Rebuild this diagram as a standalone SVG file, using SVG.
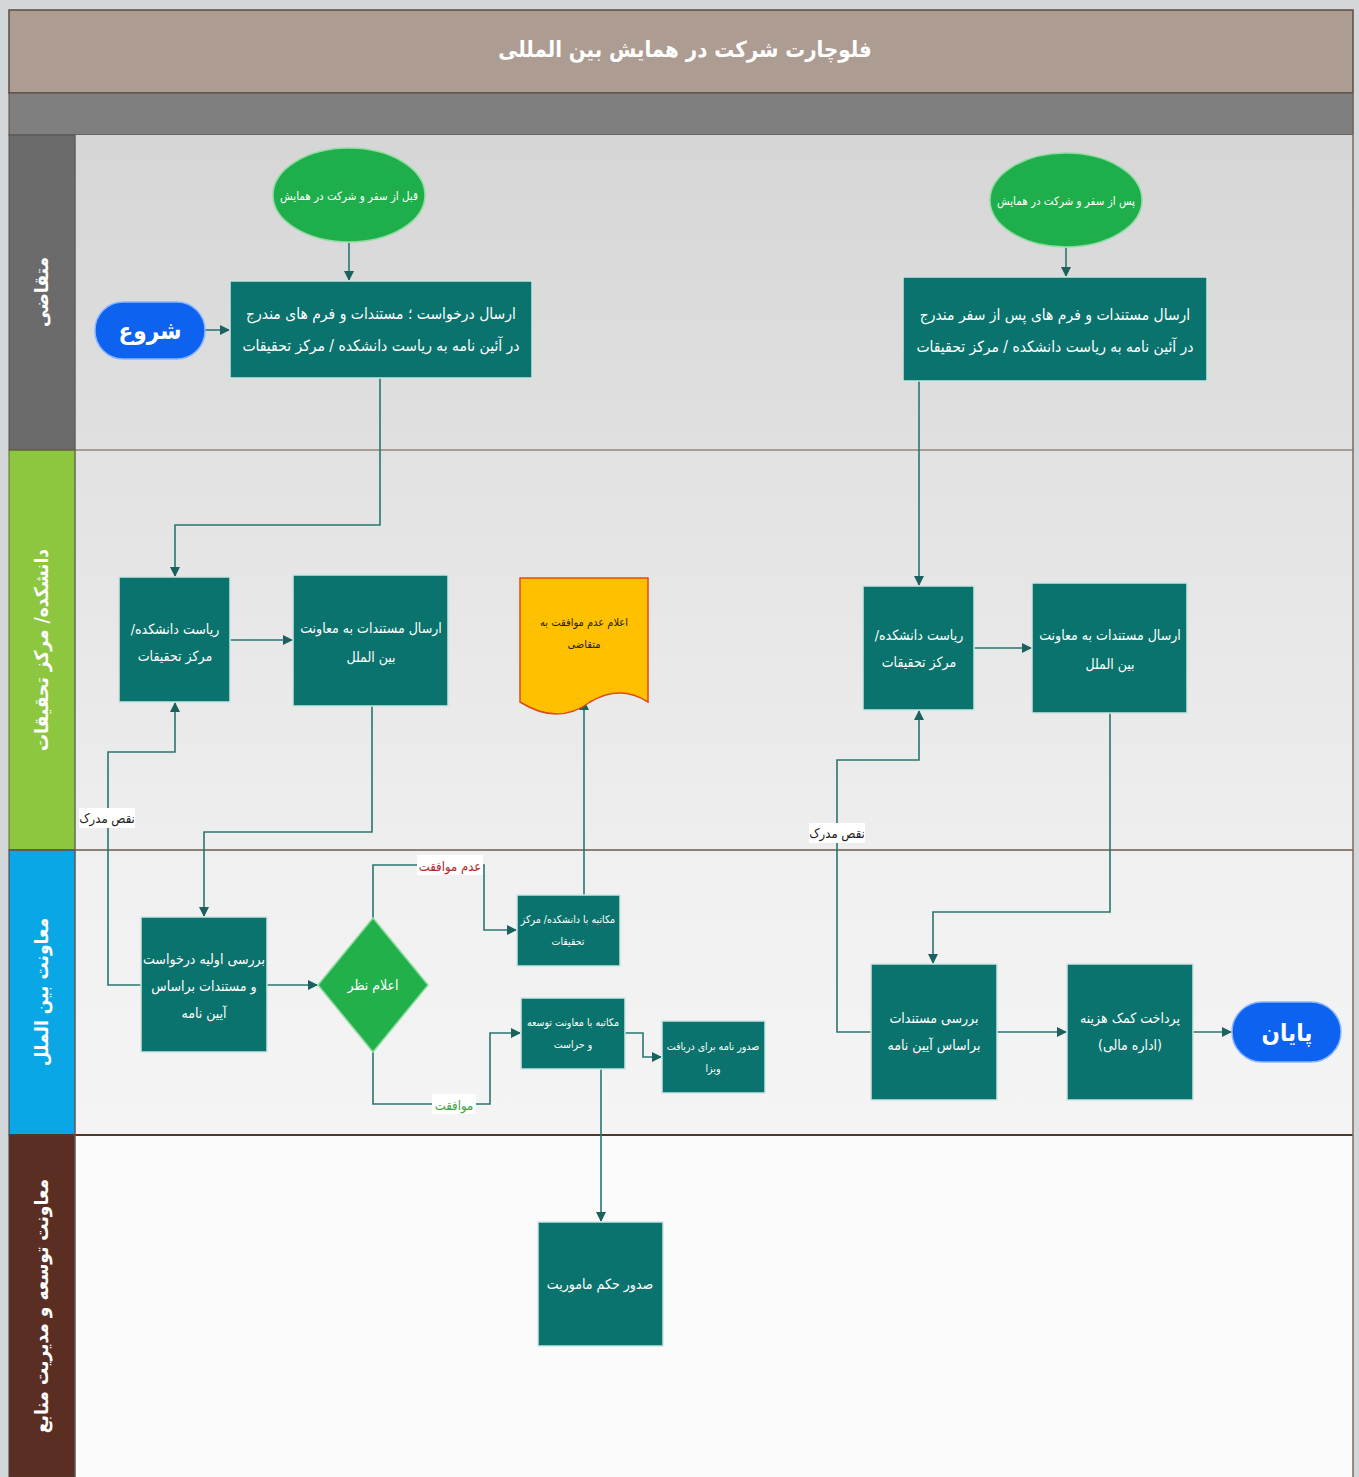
<svg xmlns="http://www.w3.org/2000/svg" width="1359" height="1477" viewBox="0 0 1359 1477">
<defs>
<style>
text{font-family:"DejaVu Sans Condensed","DejaVu Sans",sans-serif;direction:rtl;}
.box{fill:#0b736d;stroke:#cde6e3;stroke-width:1.5;}
.bt{fill:#ffffff;font-size:14px;text-anchor:middle;}
.bt-l{fill:#ffffff;font-size:15.5px;text-anchor:middle;}
.bt-s{fill:#ffffff;font-size:10.5px;text-anchor:middle;}
.bt-e{fill:#ffffff;font-size:11.5px;text-anchor:middle;}
.ell{fill:#1fae4c;stroke:#8fdca0;stroke-width:1.5;}
.pill{fill:#0d63f0;stroke:#8ab6ff;stroke-width:1.5;}
.lane-t{fill:#ffffff;font-size:19px;font-weight:bold;text-anchor:middle;}
.conn{fill:none;stroke:#2a7571;stroke-width:1.6;}
.lbl{font-size:13px;text-anchor:middle;}
</style>
<marker id="arr" viewBox="0 0 10 10" refX="9" refY="5" markerWidth="10" markerHeight="10" markerUnits="userSpaceOnUse" orient="auto">
<path d="M0,0 L10,5 L0,10 Z" fill="#1b615d"/>
</marker>
<linearGradient id="g1" x1="0" y1="0" x2="0" y2="1"><stop offset="0" stop-color="#d6d6d6"/><stop offset="1" stop-color="#e0e0e0"/></linearGradient>
<linearGradient id="g2" x1="0" y1="0" x2="0" y2="1"><stop offset="0" stop-color="#e2e2e2"/><stop offset="1" stop-color="#eeeeee"/></linearGradient>
<linearGradient id="g3" x1="0" y1="0" x2="0" y2="1"><stop offset="0" stop-color="#f0f0f0"/><stop offset="1" stop-color="#f4f4f4"/></linearGradient>
</defs>

<rect x="0" y="0" width="1359" height="1477" fill="#d4d7d9"/>

<g id="frame">
<rect x="9" y="10" width="1344" height="83" fill="#ad9c92" stroke="#5b4b42" stroke-width="1.5"/>
<text x="685" y="57" fill="#ffffff" font-size="22" font-weight="bold" text-anchor="middle">فلوچارت شرکت در همایش بین المللی</text>
<rect x="9" y="93" width="1344" height="42" fill="#7f7f7f" stroke="#5b4b42" stroke-width="1"/>
</g>

<g id="lanes">
<rect x="75" y="135" width="1278" height="315" fill="url(#g1)"/>
<rect x="75" y="450" width="1278" height="400" fill="url(#g2)"/>
<rect x="75" y="850" width="1278" height="285" fill="url(#g3)"/>
<rect x="75" y="1135" width="1278" height="342" fill="#fbfbfb"/>
<rect x="9" y="135" width="66" height="315" fill="#6b6b6b" stroke="#555" stroke-width="1"/>
<rect x="9" y="450" width="66" height="400" fill="#8dc63f" stroke="#5f6f2a" stroke-width="1"/>
<rect x="9" y="850" width="66" height="285" fill="#0aa7e6" stroke="#4a3a30" stroke-width="1"/>
<rect x="9" y="1135" width="66" height="342" fill="#5a2e22" stroke="#4a3a30" stroke-width="1"/>
<line x1="9" y1="450" x2="1353" y2="450" stroke="#6b5a4e" stroke-width="1.2"/>
<line x1="9" y1="850" x2="1353" y2="850" stroke="#6b5a4e" stroke-width="1.5"/>
<line x1="9" y1="1135" x2="1353" y2="1135" stroke="#4a3a30" stroke-width="2"/>
<line x1="1353" y1="93" x2="1353" y2="1477" stroke="#7a6a60" stroke-width="1.5"/>
<line x1="75" y1="135" x2="75" y2="1477" stroke="#666" stroke-width="1"/>
<text class="lane-t" transform="translate(48,292) rotate(-90)">متقاضی</text>
<text class="lane-t" transform="translate(48,650) rotate(-90)">دانشکده/ مرکز تحقیقات</text>
<text class="lane-t" transform="translate(48,992) rotate(-90)">معاونت بین الملل</text>
<text class="lane-t" transform="translate(48,1306) rotate(-90)">معاونت توسعه و مدیریت منابع</text>
</g>

<g id="connectors">
<path class="conn" d="M349,243 V280" marker-end="url(#arr)"/>
<path class="conn" d="M205,330 H229" marker-end="url(#arr)"/>
<path class="conn" d="M380,378 V525 H175 V576" marker-end="url(#arr)"/>
<path class="conn" d="M1066,248 V276" marker-end="url(#arr)"/>
<path class="conn" d="M919,381 V585" marker-end="url(#arr)"/>
<path class="conn" d="M230,640 H292" marker-end="url(#arr)"/>
<path class="conn" d="M372,706 V832 H204 V916" marker-end="url(#arr)"/>
<path class="conn" d="M141,985 H108 V752 H175 V703" marker-end="url(#arr)"/>
<path class="conn" d="M267,985 H317" marker-end="url(#arr)"/>
<path class="conn" d="M373,918 V865 H484 V930 H516" marker-end="url(#arr)"/>
<path class="conn" d="M373,1052 V1104 H490 V1033 H520" marker-end="url(#arr)"/>
<path class="conn" d="M584,895 V701" marker-end="url(#arr)"/>
<path class="conn" d="M625,1033 H643 V1057 H661" marker-end="url(#arr)"/>
<path class="conn" d="M601,1069 V1221" marker-end="url(#arr)"/>
<path class="conn" d="M974,648 H1031" marker-end="url(#arr)"/>
<path class="conn" d="M1110,713 V912 H933 V963" marker-end="url(#arr)"/>
<path class="conn" d="M871,1032 H837 V760 H919 V711" marker-end="url(#arr)"/>
<path class="conn" d="M997,1032 H1066" marker-end="url(#arr)"/>
<path class="conn" d="M1193,1032 H1231" marker-end="url(#arr)"/>
<rect x="79" y="808" width="56" height="20" fill="#ffffff"/>
<text class="lbl" x="107" y="823" fill="#222">نقص مدرک</text>
<rect x="809" y="823" width="56" height="20" fill="#ffffff"/>
<text class="lbl" x="837" y="838" fill="#222">نقص مدرک</text>
<rect x="417" y="855" width="66" height="20" fill="#ffffff"/>
<text class="lbl" x="450" y="871" fill="#b3262a" font-size="14">عدم موافقت</text>
<rect x="432" y="1094" width="44" height="20" fill="#ffffff"/>
<text class="lbl" x="454" y="1110" fill="#3da63d" font-size="14">موافقت</text>
</g>

<g id="n-before">
<ellipse class="ell" cx="349" cy="195" rx="76" ry="47"/>
<text class="bt-e" x="349" y="200">قبل از سفر و شرکت در همایش</text>
</g>
<g id="n-after">
<ellipse class="ell" cx="1066" cy="200" rx="76" ry="47"/>
<text class="bt-e" x="1066" y="205">پس از سفر و شرکت در همایش</text>
</g>
<g id="n-start">
<rect class="pill" x="95" y="302" width="110" height="57" rx="28"/>
<text x="150" y="339" fill="#fff" font-size="24" font-weight="bold" text-anchor="middle">شروع</text>
</g>
<g id="n-send1">
<rect class="box" x="230" y="281" width="302" height="97"/>
<text class="bt-l" x="381" y="319">ارسال درخواست ؛ مستندات و فرم های مندرج</text>
<text class="bt-l" x="381" y="351">در آئین نامه به ریاست دانشکده / مرکز تحقیقات</text>
</g>
<g id="n-send2">
<rect class="box" x="903" y="277" width="304" height="104"/>
<text class="bt-l" x="1055" y="320">ارسال  مستندات و فرم های پس از سفر مندرج</text>
<text class="bt-l" x="1055" y="352">در آئین نامه به ریاست دانشکده / مرکز تحقیقات</text>
</g>
<g id="n-dean1">
<rect class="box" x="119" y="577" width="111" height="125"/>
<text class="bt" x="175" y="634">ریاست دانشکده/</text>
<text class="bt" x="175" y="661">مرکز تحقیقات</text>
</g>
<g id="n-fwd1">
<rect class="box" x="293" y="575" width="155" height="131"/>
<text class="bt" x="371" y="633">ارسال مستندات به معاونت</text>
<text class="bt" x="371" y="662">بین الملل</text>
</g>
<g id="n-reject">
<path d="M520,578 H648 V702 Q620,684 590,702 Q558,726 520,702 Z" fill="#ffc000" stroke="#e04a1a" stroke-width="1.5"/>
<text x="584" y="626" fill="#222" font-size="11" text-anchor="middle">اعلام عدم موافقت به</text>
<text x="584" y="648" fill="#222" font-size="11" text-anchor="middle">متقاضی</text>
</g>
<g id="n-dean2">
<rect class="box" x="863" y="586" width="111" height="124"/>
<text class="bt" x="919" y="640">ریاست دانشکده/</text>
<text class="bt" x="919" y="667">مرکز تحقیقات</text>
</g>
<g id="n-fwd2">
<rect class="box" x="1032" y="583" width="155" height="130"/>
<text class="bt" x="1110" y="640">ارسال مستندات به معاونت</text>
<text class="bt" x="1110" y="669">بین الملل</text>
</g>
<g id="n-review1">
<rect class="box" x="141" y="917" width="126" height="135"/>
<text class="bt" x="204" y="964">بررسی اولیه درخواست</text>
<text class="bt" x="204" y="991">و مستندات براساس</text>
<text class="bt" x="204" y="1018">آیین نامه</text>
</g>
<g id="n-decision">
<polygon points="373,918 428,985 373,1052 318,985" fill="#22b04b" stroke="#8fdca0" stroke-width="1.5"/>
<text class="bt" x="373" y="990">اعلام نظر</text>
</g>
<g id="n-letter-dean">
<rect class="box" x="517" y="895" width="103" height="71"/>
<text class="bt-s" x="568" y="923">مکاتبه با دانشکده/ مرکز</text>
<text class="bt-s" x="568" y="945">تحقیقات</text>
</g>
<g id="n-letter-dev">
<rect class="box" x="521" y="998" width="104" height="71"/>
<text class="bt-s" x="573" y="1026">مکاتبه با معاونت توسعه</text>
<text class="bt-s" x="573" y="1048">و حراست</text>
</g>
<g id="n-visa">
<rect class="box" x="662" y="1021" width="103" height="72"/>
<text class="bt-s" x="713" y="1050">صدور نامه برای دریافت</text>
<text class="bt-s" x="713" y="1072">ویزا</text>
</g>
<g id="n-review2">
<rect class="box" x="871" y="964" width="126" height="136"/>
<text class="bt" x="934" y="1023">بررسی مستندات</text>
<text class="bt" x="934" y="1050">براساس آیین نامه</text>
</g>
<g id="n-pay">
<rect class="box" x="1067" y="964" width="126" height="136"/>
<text class="bt" x="1130" y="1023">پرداخت کمک هزینه</text>
<text class="bt" x="1130" y="1050">(اداره مالی)</text>
</g>
<g id="n-end">
<rect class="pill" x="1232" y="1002" width="109" height="60" rx="30"/>
<text x="1287" y="1041" fill="#fff" font-size="24" font-weight="bold" text-anchor="middle">پایان</text>
</g>
<g id="n-mission">
<rect class="box" x="538" y="1222" width="125" height="124"/>
<text class="bt" x="600" y="1289">صدور حکم ماموریت</text>
</g>
</svg>
